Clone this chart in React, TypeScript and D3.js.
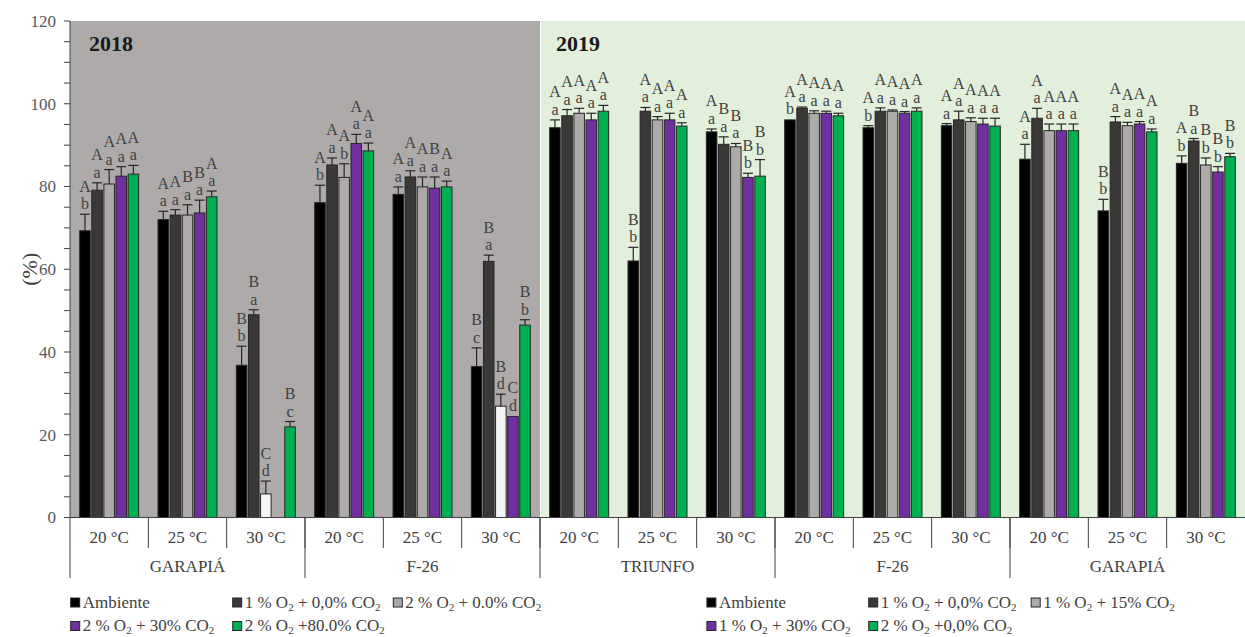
import React from "react";
import * as d3 from "d3";

// Germination (%) by cultivar, storage temperature and atmosphere, 2018 and 2019 trials
const years = ["2018", "2019"];
const groupYears = ["2018", "2018", "2018", "2018", "2018", "2018", "2019", "2019", "2019", "2019", "2019", "2019", "2019", "2019", "2019"];
const groupCultivars = ["GARAPIÁ", "GARAPIÁ", "GARAPIÁ", "F-26", "F-26", "F-26", "TRIUNFO", "TRIUNFO", "TRIUNFO", "F-26", "F-26", "F-26", "GARAPIÁ", "GARAPIÁ", "GARAPIÁ"];
const groupTemps = ["20 °C", "25 °C", "30 °C", "20 °C", "25 °C", "30 °C", "20 °C", "25 °C", "30 °C", "20 °C", "25 °C", "30 °C", "20 °C", "25 °C", "30 °C"];

const seriesKeys = ["s0", "s1", "s2", "s3", "s4"];

// Means per group (null = not recorded)
const ambienteValues = [69.3, 72.0, 36.8, 76.1, 78.1, 36.5, 94.2, 62.0, 93.2, 96.1, 94.2, 94.7, 86.6, 74.1, 85.6];
const series1Values = [79.1, 73.1, 49.0, 85.2, 82.3, 61.9, 97.1, 98.2, 90.2, 98.9, 98.2, 96.1, 96.5, 95.6, 91.0];
const series2Values = [80.6, 73.1, 5.7, 82.2, 79.9, 26.9, 97.7, 96.1, 89.6, 97.7, 98.2, 95.7, 93.5, 94.7, 85.2];
const series3Values = [82.5, 73.6, null, 90.4, 79.6, 24.4, 96.1, 96.1, 82.2, 97.7, 97.7, 95.1, 93.5, 95.1, 83.5];
const series4Values = [83.0, 77.5, 21.9, 88.6, 79.9, 46.5, 98.2, 94.6, 82.5, 97.1, 98.2, 94.6, 93.5, 93.2, 87.2];

// Standard errors
const ambienteErrors = [4.0, 2.0, 4.6, 4.2, 1.8, 4.5, 1.9, 3.3, 0.7, 0.2, 0.5, 0.5, 3.6, 2.8, 1.8];
const series1Errors = [1.8, 1.3, 1.2, 1.7, 1.5, 1.5, 1.5, 0.9, 1.8, 0.3, 0.8, 2.1, 2.4, 1.3, 0.6];
const series2Errors = [3.5, 2.5, 3.1, 3.3, 2.4, 2.9, 1.2, 0.8, 0.8, 0.6, 0.3, 0.9, 1.6, 0.8, 1.7];
const series3Errors = [2.3, 3.1, 0, 2.2, 2.7, 0.2, 1.6, 1.6, 1.0, 0.5, 0.4, 1.4, 1.6, 0.6, 1.3];
const series4Errors = [2.1, 1.4, 1.3, 1.9, 1.4, 1.3, 1.4, 0.8, 4.0, 0.6, 0.8, 1.9, 1.6, 0.7, 0.8];

// Significance letters, one character per bar (space = none)
const upperLetters = ["AAAAA", "AABBA", "BBC B", "AAAAA", "AAABA", "BBBCB", "AAAAA", "BAAAA", "ABBBB", "AAAAA", "AAAAA", "AAAAA", "AAAAA", "BAAAA", "ABBBB"];
const lowerLetters = ["baaaa", "aaaaa", "bad c", "babaa", "aaaaa", "caddb", "aaaaa", "baaaa", "aaabb", "baaaa", "baaaa", "aaaaa", "aaaaa", "baaaa", "babbb"];

const yTicks = [0, 20, 40, 60, 80, 100, 120];

const legend2018 = ["Ambiente", "1 % O₂ + 0,0% CO₂", "2 % O₂ + 0.0% CO₂", "2 % O₂ + 30% CO₂", "2 % O₂ +80.0% CO₂"];
const legend2019 = ["Ambiente", "1 % O₂ + 0,0% CO₂", "1 % O₂ + 15% CO₂", "1 % O₂ + 30% CO₂", "2 % O₂ +0,0% CO₂"];

const seriesValues = [ambienteValues, series1Values, series2Values, series3Values, series4Values];
const seriesErrors = [ambienteErrors, series1Errors, series2Errors, series3Errors, series4Errors];

const W = 1245;
const H = 637;
const left = 70;
const right = 1245;
const top = 21;
const bottom = 517.5;

const colors = ["#000000", "#3B3838", "#AEAAAA", "#7030A0", "#00B050"];
const strokeCol = "#262626";
const textCol = "#404040";
const FONT = "'Liberation Serif', 'Times New Roman', serif";
// light bars drawn open in the 30 °C groups of 2018
const openLightBars = new Set([2, 5]);

function SubText({ label }: { label: string }) {
  const parts = label.split("₂");
  const out: React.ReactNode[] = [];
  parts.forEach((p, i) => {
    out.push(
      <tspan key={"t" + i} dy={i > 0 ? -3 : 0}>
        {p}
      </tspan>
    );
    if (i < parts.length - 1) {
      out.push(
        <tspan key={"s" + i} fontSize={11} dy={3}>
          2
        </tspan>
      );
    }
  });
  return <>{out}</>;
}

export default function App() {
  const groups = d3.range(groupTemps.length).map(String);
  const x0 = d3.scaleBand<string>().domain(groups).range([left, right]).padding(0);
  const x1 = d3
    .scaleBand<string>()
    .domain(seriesKeys)
    .range([0, x0.bandwidth()])
    .paddingInner(0.13)
    .paddingOuter(0.8);
  const y = d3.scaleLinear().domain([0, 120]).range([bottom, top]);
  const bw = x1.bandwidth();

  const minorTicks = d3.range(0, 121, 5);

  // cultivar spans
  const spans: { name: string; start: number; end: number }[] = [];
  groupCultivars.forEach((c, i) => {
    const prev = spans[spans.length - 1];
    if (prev && prev.name === c && groupYears[i] === groupYears[prev.end]) {
      prev.end = i;
    } else {
      spans.push({ name: c, start: i, end: i });
    }
  });

  const yearStart2019 = groupYears.indexOf(years[1]);
  const splitX = x0(String(yearStart2019))!;

  const legendCols2018 = [70.7, 232.7, 393.3];
  const legendCols2019 = [706.9, 868.7, 1031.2];
  const legendRows = [607.5, 631];

  const renderLegend = (labels: string[], cols: number[], k: string) =>
    labels.map((lab, i) => {
      const col = cols[i % 3];
      const row = legendRows[Math.floor(i / 3)];
      return (
        <g key={k + i}>
          <rect x={col} y={row - 9.5} width={9} height={9} fill={colors[i]} stroke={strokeCol} strokeWidth={1} />
          <text x={col + 12} y={row} fontSize={17} fill={textCol} fontFamily={FONT}>
            <SubText label={lab} />
          </text>
        </g>
      );
    });

  return (
    <svg
      width={W}
      height={H}
      style={{ position: "absolute", left: 0, top: 0, background: "#fff" }}
      fontFamily={FONT}
    >
      {/* year panels */}
      <rect x={left} y={top} width={splitX - left} height={bottom - top} fill="#AEAAAA" />
      <rect x={splitX + 1} y={top} width={right - splitX - 1} height={bottom - top} fill="#E2EFDA" />
      <text x={89} y={51} fontSize={22} fontWeight="bold" fill="#1a1a1a">
        {years[0]}
      </text>
      <text x={556} y={51} fontSize={22} fontWeight="bold" fill="#1a1a1a">
        {years[1]}
      </text>

      {/* bars, error bars and letters */}
      {groups.map((g, gi) => (
        <g key={g} transform={`translate(${x0(g)},0)`}>
          {seriesKeys.map((s, si) => {
            const v = seriesValues[si][gi];
            if (v == null) return null;
            const e = seriesErrors[si][gi];
            const bx = x1(s)!;
            const cx = bx + bw / 2;
            const yTop = y(v);
            const yErr = y(v + e);
            let fill = colors[si];
            if (si === 2 && openLightBars.has(gi)) fill = "#F4F4F4";
            const lowY = yErr - 5;
            const upY = lowY - 17.5;
            const up = upperLetters[gi][si];
            const low = lowerLetters[gi][si];
            return (
              <g key={s}>
                <rect x={bx} y={yTop} width={bw} height={bottom - yTop} fill={fill} stroke={strokeCol} strokeWidth={1} />
                {e > 0.25 && (
                  <g stroke={strokeCol} strokeWidth={1.2}>
                    <line x1={cx} x2={cx} y1={yTop} y2={yErr} />
                    <line x1={cx - 5} x2={cx + 5} y1={yErr} y2={yErr} />
                  </g>
                )}
                {low.trim() && (
                  <text x={cx} y={lowY} fontSize={16} textAnchor="middle" fill={textCol}>
                    {low}
                  </text>
                )}
                {up.trim() && (
                  <text x={cx} y={upY} fontSize={16} textAnchor="middle" fill={textCol}>
                    {up}
                  </text>
                )}
              </g>
            );
          })}
        </g>
      ))}

      {/* y axis */}
      <line x1={left} x2={left} y1={top} y2={578} stroke={textCol} strokeWidth={1} />
      {minorTicks.map((t) => (
        <line key={t} x1={left - 6} x2={left} y1={y(t)} y2={y(t)} stroke={textCol} strokeWidth={1} />
      ))}
      {yTicks.map((t) => (
        <text key={t} x={56} y={y(t)} dy="0.35em" fontSize={17} textAnchor="end" fill="#595959">
          {t}
        </text>
      ))}
      <text
        transform={`translate(29,${(top + bottom) / 2}) rotate(-90)`}
        fontSize={22}
        textAnchor="middle"
        dy="0.35em"
        fill="#404040"
      >
        (%)
      </text>

      {/* x axis */}
      <line x1={left} x2={right} y1={bottom} y2={bottom} stroke={textCol} strokeWidth={1} />
      {groups.map((g, gi) =>
        gi === 0 ? null : (
          <line key={"sep" + g} x1={x0(g)} x2={x0(g)} y1={bottom} y2={548} stroke={textCol} strokeWidth={1} />
        )
      )}
      {spans.map((sp) =>
        sp.start === 0 ? null : (
          <line
            key={"csep" + sp.start}
            x1={x0(String(sp.start))}
            x2={x0(String(sp.start))}
            y1={bottom}
            y2={578}
            stroke={textCol}
            strokeWidth={1}
          />
        )
      )}
      {groups.map((g, gi) => (
        <text key={"t" + g} x={x0(g)! + x0.bandwidth() / 2} y={543} fontSize={17} textAnchor="middle" fill={textCol}>
          {groupTemps[gi]}
        </text>
      ))}
      {spans.map((sp) => {
        const cx = (x0(String(sp.start))! + x0(String(sp.end))! + x0.bandwidth()) / 2;
        return (
          <text key={"c" + sp.start} x={cx} y={572} fontSize={17} textAnchor="middle" fill={textCol}>
            {sp.name}
          </text>
        );
      })}

      {/* legends */}
      {renderLegend(legend2018, legendCols2018, "l18")}
      {renderLegend(legend2019, legendCols2019, "l19")}
    </svg>
  );
}
